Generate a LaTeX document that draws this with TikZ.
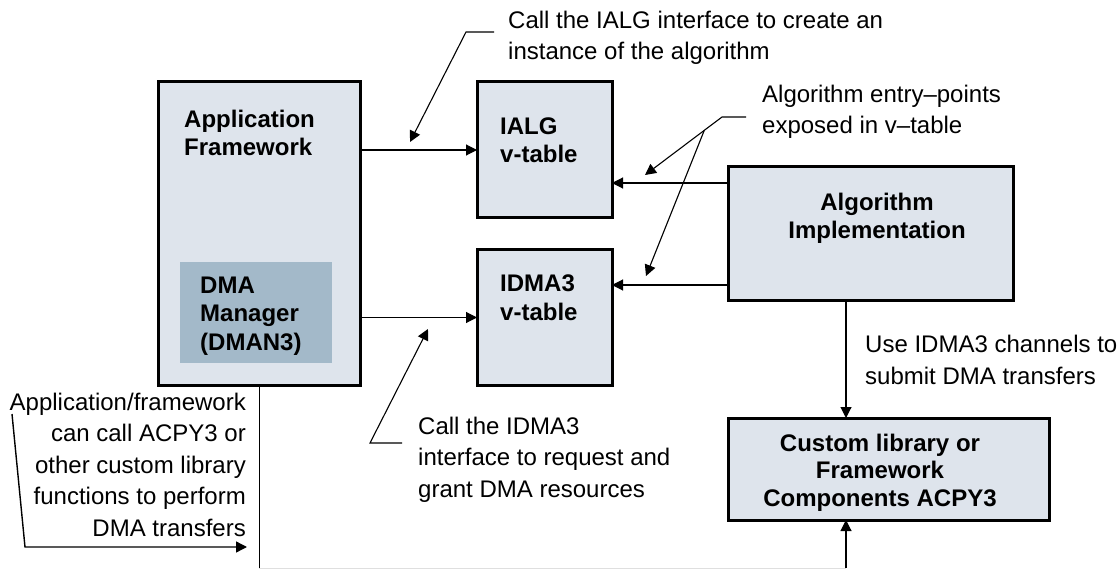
\documentclass[tikz,border=0pt]{standalone}
\usepackage{fontspec}
\setmainfont{Liberation Sans}
\usetikzlibrary{positioning,calc,arrows.meta}
\definecolor{boxfill}{RGB}{222,228,236}
\definecolor{dmafill}{RGB}{163,185,201}
\begin{document}
\begin{tikzpicture}[x=1pt,y=-1pt,
	box/.style={draw, line width=3pt, fill=boxfill, anchor=north west, inner sep=0, outer sep=0},
	title/.style={font=\bfseries\fontsize{24}{28.5}\selectfont, align=left, anchor=base west, inner sep=0},
	note/.style={font=\fontsize{24}{31.5}\selectfont, align=left, anchor=base west, inner sep=0},
	arr/.style={-{Triangle[length=11pt,width=11pt]}, line width=1.1pt},
	lead/.style={line width=1pt}]
		\useasboundingbox (0,0) rectangle (1119,569);
		% boxes
		\node[box, minimum width=202pt, minimum height=303pt] (app) at (158,82) {};
		\node[box, draw=none, fill=dmafill, minimum width=152pt, minimum height=101pt] (dma) at (180,262) {};
		\node[box, minimum width=135pt, minimum height=136pt] (ialg) at (477,82) {};
		\node[box, minimum width=135pt, minimum height=135pt] (idma) at (477,250) {};
		\node[box, minimum width=285pt, minimum height=134pt] (algo) at (728,167) {};
		\node[box, minimum width=321pt, minimum height=102pt] (custom) at (728,418) {};
		
		% box texts (base = last line)
		\node[title] (apptxt) at (184,156) {Application\\Framework};
		\node[title] (dmatxt) at (200,350) {DMA\\Manager\\(DMAN3)};
		\node[title] (ialgtxt) at (500,163) {IALG\\v-table};
		\node[title] (idmatxt) at (500,320) {IDMA3\\v-table};
		\node[title, anchor=base, align=center] (algotxt) at (877,239) {Algorithm\\Implementation};
		\node[title, anchor=base, align=center, font=\bfseries\fontsize{24}{27.5}\selectfont] (customtxt) at (880,506) {Custom library or\\Framework\\Components ACPY3};
		
		% notes
		\node[note] (callialg) at (508,60) {Call the IALG interface to create an\\instance of the algorithm};
		\node[note] (entry) at (762,134) {Algorithm entry--points\\exposed in v--table};
		\node[note] (useidma) at (865,384) {Use IDMA3 channels to\\submit DMA transfers};
		\node[note] (callidma) at (418,497) {Call the IDMA3\\interface to request and\\grant DMA resources};
		\node[note, anchor=base east, align=right] (appcall) at (246,536) {Application/framework\\can call ACPY3 or\\other custom library\\functions to perform\\DMA transfers};
		
		% connectors
		\draw[arr] (app.east |- ialg.west) -- (ialg.west);
		\draw[arr] (app.east |- idma.west) -- (idma.west);
		\draw[arr] ([yshift=51pt]algo.west) -- ([yshift=51pt]algo.west -| ialg.east);
		\draw[arr] ([yshift=-51pt]algo.west) -- ([yshift=-51pt]algo.west -| idma.east);
		\draw[arr] ([xshift=-24.5pt]algo.south) -- ([xshift=-24.5pt]algo.south |- custom.north);
		
		\coordinate (bot) at (app.south |- 0,568);
		\coordinate (up) at ([xshift=-42.5pt]custom.south |- bot);
		\draw[lead] (app.south) -- (bot);
		\draw[lead, gray!25] (bot) -- (up);
		\draw[arr] (up) -- (up |- custom.south);
		
		% leaders
		\coordinate (k1) at (466,32);
		\draw[lead, arr] (494,32) -- (k1) -- (410,142);
		\coordinate (k2) at (722,117);
		\draw[lead, arr] (746,117) -- (k2) -- (645,175);
		\draw[lead, arr] ($(k2)!0.23!(645,175)$) -- (646,276);
		\coordinate (k3) at (370,443);
		\draw[lead, arr] (402,443) -- (k3) -- (428,329);
		\coordinate (k4) at (25,547);
		\draw[arr, line width=1.4pt] (12,414) -- (k4) -- (247,547);
		
	\end{tikzpicture}
\end{document}
